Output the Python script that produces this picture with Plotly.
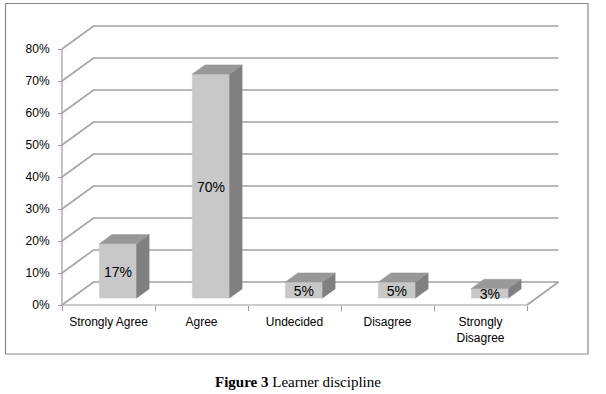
import plotly.graph_objects as go

# ---- data ----
categories = ["Strongly Agree", "Agree", "Undecided", "Disagree", "Strongly<br>Disagree"]
values = [17, 70, 5, 5, 3]
value_labels = ["17%", "70%", "5%", "5%", "3%"]
tick_values = [0, 10, 20, 30, 40, 50, 60, 70, 80]
tick_labels = ["0%", "10%", "20%", "30%", "40%", "50%", "60%", "70%", "80%"]

# ---- 3D projection settings (in data units) ----
DX, DY = 0.3387, 7.19      # depth offset of back wall
F0, F1 = 0.3, 0.7          # bar depth position (fraction of depth)
W = 0.4                    # bar width (fraction of category)
N = len(categories)

GRID = "#a3a3a3"
FRONT = "#c8c8c8"
SIDE = "#808080"
TOP = "#989898"

fig = go.Figure()

# walls / gridlines
gx, gy = [], []
for v in tick_values:
    gx += [0, DX, N + DX, None]
    gy += [v, v + DY, v + DY, None]
gx += [N, N + DX, None]
gy += [0, DY, None]
fig.add_trace(go.Scatter(x=gx, y=gy, mode="lines", line=dict(color=GRID, width=1.6),
                         hoverinfo="skip", showlegend=False))
# front axis lines
fig.add_trace(go.Scatter(x=[0, 0, None, 0, N], y=[tick_values[-1], 0, None, 0, 0], mode="lines",
                         line=dict(color="#9a9a9a", width=1.2), hoverinfo="skip", showlegend=False))

# bars
for i, v in enumerate(values):
    c = i + 0.5
    xl, xr = c - W / 2, c + W / 2
    # front face
    fig.add_trace(go.Scatter(
        x=[xl + F0 * DX, xr + F0 * DX, xr + F0 * DX, xl + F0 * DX, xl + F0 * DX],
        y=[F0 * DY, F0 * DY, v + F0 * DY, v + F0 * DY, F0 * DY],
        fill="toself", fillcolor=FRONT, mode="lines", line=dict(color=FRONT, width=0.5),
        hoverinfo="skip", showlegend=False))
    # side face
    fig.add_trace(go.Scatter(
        x=[xr + F0 * DX, xr + F1 * DX, xr + F1 * DX, xr + F0 * DX, xr + F0 * DX],
        y=[F0 * DY, F1 * DY, v + F1 * DY, v + F0 * DY, F0 * DY],
        fill="toself", fillcolor=SIDE, mode="lines", line=dict(color=SIDE, width=0.5),
        hoverinfo="skip", showlegend=False))
    # top face
    fig.add_trace(go.Scatter(
        x=[xl + F0 * DX, xr + F0 * DX, xr + F1 * DX, xl + F1 * DX, xl + F0 * DX],
        y=[v + F0 * DY, v + F0 * DY, v + F1 * DY, v + F1 * DY, v + F0 * DY],
        fill="toself", fillcolor=TOP, mode="lines", line=dict(color=TOP, width=0.5),
        hoverinfo="skip", showlegend=False))

# data labels
fig.add_trace(go.Scatter(
    x=[i + 0.5 + F0 * DX for i in range(N)],
    y=[v / 2 + F0 * DY - 0.8 for v in values],
    text=value_labels, mode="text",
    textfont=dict(family="Liberation Sans, Arial", size=14, color="#000000"),
    hoverinfo="skip", showlegend=False))

fig.update_layout(
    width=606, height=394,
    margin=dict(l=0, r=0, t=0, b=0, autoexpand=False),
    paper_bgcolor="white", plot_bgcolor="white",
    xaxis=dict(range=[-62 / 93, (606 - 62) / 93], showgrid=False, zeroline=False, showline=False,
               tickmode="array", tickvals=[i + 0.5 for i in range(N)], ticktext=categories,
               ticks="outside", ticklen=6, tickcolor="rgba(0,0,0,0)",
               anchor="free", position=(394 - 305) / 394, automargin=False,
               tickfont=dict(family="Liberation Sans, Arial", size=12, color="#000000"),
               minor=dict(tickmode="array", tickvals=list(range(N + 1)), ticks="outside",
                          ticklen=5, tickcolor="#9a9a9a", tickwidth=1, showgrid=False),
               fixedrange=True),
    yaxis=dict(range=[(305 - 394) / 3.2, 305 / 3.2], showgrid=False, zeroline=False, showline=False,
               tickmode="array", tickvals=tick_values, ticktext=tick_labels,
               ticks="outside", ticklen=4, tickcolor="#9a9a9a", ticklabelstandoff=6,
               anchor="free", position=62 / 606, automargin=False,
               tickfont=dict(family="Liberation Sans, Arial", size=12, color="#000000"),
               fixedrange=True),
    shapes=[dict(type="rect", xref="paper", yref="paper",
                 x0=5.5 / 606, x1=588 / 606, y0=1 - 354 / 394, y1=1 - 3.5 / 394,
                 line=dict(color="#878787", width=1.2), fillcolor="rgba(0,0,0,0)", layer="below")],
    annotations=[dict(xref="paper", yref="paper", x=298 / 606, y=1 - 382 / 394,
                      text="<b>Figure 3</b> Learner discipline", showarrow=False,
                      font=dict(family="Liberation Serif, Times New Roman", size=15, color="#000000"),
                      xanchor="center", yanchor="middle")],
)

fig.write_html("out.html", config={"displayModeBar": False},
               post_script="document.body.style.margin='0';document.body.style.overflow='hidden';")
